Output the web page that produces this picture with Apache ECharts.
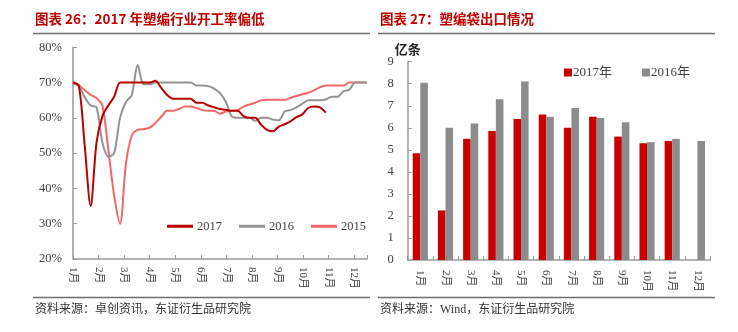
<!DOCTYPE html>
<html><head><meta charset="utf-8">
<script src="https://cdn.jsdelivr.net/npm/echarts@6/dist/echarts.min.js"></script>
<style>html,body{margin:0;padding:0;background:#fff}#c{width:738px;height:332px}</style>
</head><body><div id="c"></div>
<script>
// ---- Left chart: weekly operating rate (%), week index 0..50 ----
var monthLabels = ['1月','2月','3月','4月','5月','6月','7月','8月','9月','10月','11月','12月'];
var weeks = [];
for (var i = 0; i <= 50; i++) weeks.push(i);
var rate2017 = [70,69,52,35,53,60.5,63.5,66,70,70,70,70,70,70,70.5,68.5,66.5,65.4,65.4,65.4,65.4,64.3,64.3,63.5,63,62.5,62.3,62,62,60.5,60,60,58,56.6,56.2,57.5,58.2,59,60.2,61,62.8,63.2,63,61.5];
var rate2016 = [69.8,69,65.8,63.5,63,53,49,50,60,64.5,66.5,75,69.5,69.5,70,70,70,70,70,70,70,69.2,69.2,69,68.3,67,64.5,60.4,60,60,60,59.2,60,60,59.5,59.3,61.8,62.2,63,64,65,65,65,65.2,66,66,67.5,68,70,70,70];
var rate2015 = [70.3,69.3,67.8,66.5,65.6,63.5,51,38,30,47,55,56.6,56.8,57.2,58.5,60.3,62,62,62.5,63.2,63.2,62.8,62.2,62,62,61.2,61.8,62,62.2,63.2,63.8,64.3,65,65.1,65.1,65.1,65.1,65.7,66.2,66.7,67.1,67.8,68.7,69.2,69.2,69.2,69.2,70,70,70,70];
var rateTicks = [20,30,40,50,60,70,80];

// ---- Right chart: plastic woven bag exports (亿条) ----
var exportMonths = ['1月','2月','3月','4月','5月','6月','7月','8月','9月','10月','11月','12月'];
var exp2017 = [4.85,2.25,5.5,5.85,6.4,6.6,6.0,6.5,5.6,5.3,5.4,null];
var exp2016 = [8.05,6.0,6.2,7.3,8.1,6.5,6.9,6.45,6.25,5.35,5.5,5.4];
var exportTicks = [0,1,2,3,4,5,6,7,8,9];

function pairs(vals){ var out=[]; for (var i=0;i<vals.length;i++) out.push([weeks[i], vals[i]]); return out; }

var weekMax = 50;
var monthStep = weekMax / 11.5;
var serif = '"Liberation Serif","Noto Sans CJK SC",serif';
var cjk = '"Noto Sans CJK SC","Liberation Serif",sans-serif';
var labelColor = '#404040';
var axisColor = '#9a9a9a';

var chart = echarts.init(document.getElementById('c'), null, {renderer:'canvas'});
chart.setOption({
  animation: false,
  backgroundColor: '#fff',
  textStyle: {fontFamily: serif},
  grid: [
    {left: 73, top: 47.3, width: 294, height: 211.7, outerBoundsMode: 'none', containLabel: false},
    {left: 407.7, top: 61.7, width: 302.3, height: 198.3, outerBoundsMode: 'none', containLabel: false}
  ],
  legend: [
    {data: ['2017','2016','2015'], left: 162, top: 215, icon: 'rect', itemWidth: 26, itemHeight: 3, itemGap: 17,
     textStyle: {fontFamily: serif, fontSize: 12.5, color: labelColor, padding: [0,0,0,-1]}},
    {data: ['2017年','2016年'], left: 559, top: 61, icon: 'rect', itemWidth: 8, itemHeight: 8, itemGap: 30,
     textStyle: {fontFamily: serif, fontSize: 13, color: labelColor, padding: [0,0,0,-4]}}
  ],
  xAxis: [
    {type: 'value', gridIndex: 0, min: 0, max: weekMax, interval: monthStep,
     axisLine: {show: true, lineStyle: {color: axisColor, width: 1.5}},
     axisTick: {show: true, inside: true, length: 4, lineStyle: {color: axisColor}},
     splitLine: {show: false},
     axisLabel: {rotate: -90, margin: 8, fontSize: 11, color: labelColor, fontFamily: serif,
       formatter: function(v){ var k = v / monthStep; var r = Math.round(k); return Math.abs(k-r) < 0.01 && r < 12 ? monthLabels[r] : ''; }}},
    {type: 'category', gridIndex: 1, data: exportMonths, boundaryGap: true,
     axisLine: {show: true, lineStyle: {color: axisColor, width: 1.5}},
     axisTick: {show: true, inside: true, length: 4, alignWithLabel: false, lineStyle: {color: axisColor}},
     axisLabel: {rotate: -90, margin: 10, fontSize: 11, color: labelColor, fontFamily: serif, interval: 0}}
  ],
  yAxis: [
    {type: 'value', gridIndex: 0, min: rateTicks[0], max: rateTicks[rateTicks.length-1], interval: 10,
     axisLine: {show: true, lineStyle: {color: axisColor, width: 1.5}},
     axisTick: {show: true, inside: true, length: 4, lineStyle: {color: axisColor}},
     splitLine: {show: false},
     axisLabel: {margin: 11, fontSize: 12.5, color: labelColor, fontFamily: serif, formatter: '{value}%'}},
    {type: 'value', gridIndex: 1, min: exportTicks[0], max: exportTicks[exportTicks.length-1], interval: 1,
     name: '亿条', nameLocation: 'end', nameGap: 1,
     nameTextStyle: {fontFamily: cjk, fontSize: 13, fontWeight: 'bold', color: '#222', align: 'center'},
     axisLine: {show: true, lineStyle: {color: axisColor, width: 1.5}},
     axisTick: {show: true, inside: true, length: 4, lineStyle: {color: axisColor}},
     splitLine: {show: false},
     axisLabel: {margin: 14, fontSize: 12.5, color: labelColor, fontFamily: serif}}
  ],
  series: [
    {name: '2015', type: 'line', xAxisIndex: 0, yAxisIndex: 0, data: pairs(rate2015), smooth: 0.3, showSymbol: false, symbol: 'none',
     lineStyle: {color: '#f26767', width: 2}, itemStyle: {color: '#f26767'}, z: 2},
    {name: '2016', type: 'line', xAxisIndex: 0, yAxisIndex: 0, data: pairs(rate2016), smooth: 0.3, showSymbol: false, symbol: 'none',
     lineStyle: {color: '#939393', width: 2}, itemStyle: {color: '#939393'}, z: 3},
    {name: '2017', type: 'line', xAxisIndex: 0, yAxisIndex: 0, data: pairs(rate2017), smooth: 0.3, showSymbol: false, symbol: 'none',
     lineStyle: {color: '#b80000', width: 2}, itemStyle: {color: '#b80000'}, z: 4},
    {name: '2017年', type: 'bar', xAxisIndex: 1, yAxisIndex: 1, data: exp2017, barWidth: '30%', barGap: '0%',
     itemStyle: {color: '#c80000'}},
    {name: '2016年', type: 'bar', xAxisIndex: 1, yAxisIndex: 1, data: exp2016, barWidth: '30%', barGap: '0%',
     itemStyle: {color: '#8c8c8c'}}
  ],
  graphic: [
    {type: 'text', left: 35, top: 12, style: {text: '图表 26：2017 年塑编行业开工率偏低', fill: '#c00000', font: 'bold 13.5px ' + cjk}},
    {type: 'text', left: 380, top: 12, style: {text: '图表 27：塑编袋出口情况', fill: '#c00000', font: 'bold 13.5px ' + cjk}},
    {type: 'line', shape: {x1: 33, y1: 33.5, x2: 370, y2: 33.5}, style: {stroke: '#6e6e6e', lineWidth: 1.5}},
    {type: 'line', shape: {x1: 378, y1: 33.5, x2: 715, y2: 33.5}, style: {stroke: '#6e6e6e', lineWidth: 1.5}},
    {type: 'line', shape: {x1: 33, y1: 297.5, x2: 370, y2: 297.5}, style: {stroke: '#6e6e6e', lineWidth: 1.5}},
    {type: 'line', shape: {x1: 378, y1: 297.5, x2: 715, y2: 297.5}, style: {stroke: '#6e6e6e', lineWidth: 1.5}},
    {type: 'text', left: 35, top: 304, style: {text: '资料来源：卓创资讯，东证衍生品研究院', fill: '#333', font: '12px ' + serif}},
    {type: 'text', left: 380, top: 304, style: {text: '资料来源：Wind，东证衍生品研究院', fill: '#333', font: '12px ' + serif}}
  ]
});
</script></body></html>
